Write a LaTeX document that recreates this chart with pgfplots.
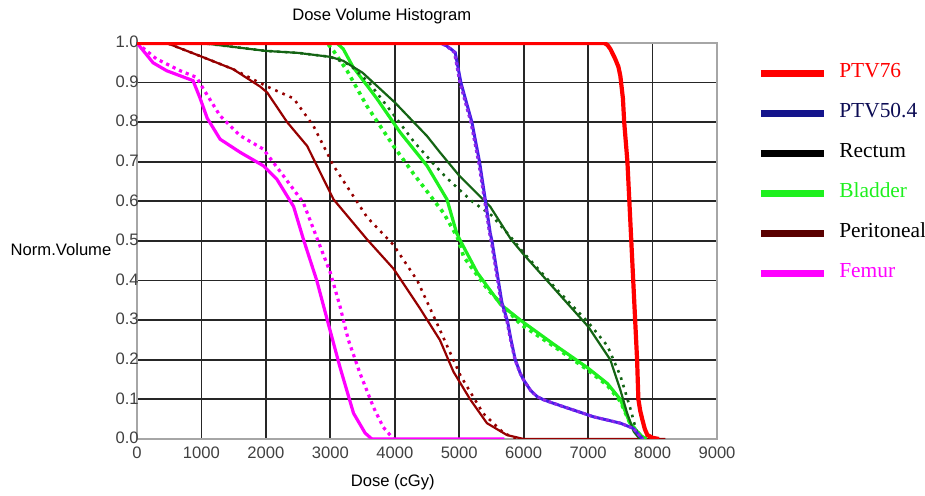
\documentclass[border=0pt]{standalone}
\usepackage{pgfplots}
\pgfplotsset{compat=1.18}
\usepackage{fontspec}
\setmainfont{Liberation Sans}
\newfontfamily\legfont{Liberation Serif}

\definecolor{ptvred}{RGB}{255,0,0}
\definecolor{ptvblue}{RGB}{70,30,230}
\definecolor{ptvviolet}{RGB}{140,40,235}
\definecolor{legnavy}{RGB}{20,20,140}
\definecolor{rectgreen}{RGB}{20,100,20}
\definecolor{bladgreen}{RGB}{30,240,30}
\definecolor{peritred}{RGB}{150,0,0}
\definecolor{femurmag}{RGB}{255,0,255}

\begin{document}
\begin{tikzpicture}
\begin{axis}[
    scale only axis,
    width=290pt, height=198pt,
    xmin=0, xmax=9000, ymin=0, ymax=1,
    xtick={0,1000,...,9000},
    ytick={0,0.1,...,1.0},
    grid=major,
    major grid style={black!85, line width=0.9pt},
    axis line style={gray!70, line width=0.6pt},
    major tick length=0pt,
    /pgf/number format/assume math mode=true,
    xticklabel style={font=\fontsize{8.3}{10}\selectfont, text=black!75,
        /pgf/number format/1000 sep={}, anchor=north, inner sep=0pt, yshift=-4pt},
    yticklabel style={font=\fontsize{8.3}{10}\selectfont, text=black!75,
        /pgf/number format/.cd, fixed, fixed zerofill, precision=1,
        /tikz/.cd, anchor=east, inner sep=0pt, xshift=1pt, yshift=0.5pt},
    title={Dose Volume Histogram},
    xlabel={Dose (cGy)},
    ylabel={Norm.Volume},
    every axis title/.style={at={(0.422,1.068)}, anchor=center,
        font=\fontsize{8.3}{10}\selectfont},
    every axis x label/.style={at={(0.441,-0.109)}, anchor=center,
        font=\fontsize{8.3}{10}\selectfont},
    every axis y label/.style={at={(-0.131,0.478)}, anchor=center,
        font=\fontsize{8.3}{10}\selectfont},
    legend style={at={(1.069,0.955)}, anchor=north west, draw=none, fill=none,
        inner sep=0pt, row sep=10pt,
        font=\legfont\fontsize{10.7}{12}\selectfont,
        nodes={inner sep=0pt, text height=8pt, text depth=2pt}},
    legend cell align=left,
    legend image code/.code={
        \draw[#1, line width=3.5pt] (0pt,-1pt) -- (31.5pt,-1pt);
        \path (39pt,0pt);
    },
]

% Femur
\addplot[forget plot, femurmag, line width=1.6pt] coordinates {
(0,1) (100,0.98) (250,0.95) (460,0.93) (870,0.905) (980,0.86) (1090,0.81)
(1290,0.757) (1600,0.724) (1960,0.69) (2170,0.656) (2430,0.587) (2583,0.504)
(2790,0.40) (2970,0.29) (3152,0.18) (3360,0.065) (3540,0.015) (3644,0) (5700,0)};
\addplot[forget plot, femurmag, line width=1.6pt, dash pattern=on 1.6pt off 2pt] coordinates {
(0,1) (150,0.98) (300,0.96) (670,0.93) (925,0.913) (1030,0.884) (1290,0.816)
(1600,0.766) (1960,0.732) (2270,0.665) (2580,0.597) (2810,0.5) (3000,0.42)
(3150,0.335) (3280,0.25) (3460,0.166) (3670,0.08) (3820,0.03) (3980,0)};

% Peritoneal
\addplot[forget plot, peritred, line width=1.1pt] coordinates {
(0,1) (460,1) (980,0.967) (1490,0.934) (1910,0.89) (2020,0.875) (2330,0.8)
(2640,0.74) (3050,0.605) (3570,0.504) (3980,0.43) (4390,0.33) (4700,0.25)
(4910,0.17) (5170,0.1) (5430,0.04) (5740,0.01) (6000,0) (8200,0)};
\addplot[forget plot, peritred, line width=1.3pt, dash pattern=on 1.3pt off 2.6pt] coordinates {
(0,1) (460,1) (980,0.967) (1490,0.934) (2020,0.89) (2430,0.86) (2740,0.79)
(3050,0.69) (3570,0.56) (3980,0.49) (4350,0.40) (4660,0.29) (5020,0.16)
(5370,0.065) (5690,0.015) (5900,0)};

% Bladder
\addplot[forget plot, bladgreen, line width=1.6pt] coordinates {
(0,1) (3100,1) (3200,0.985) (3350,0.94) (3720,0.86) (4080,0.775) (4500,0.69)
(4810,0.605) (4960,0.52) (5020,0.5) (5280,0.42) (5640,0.34) (5950,0.3)
(6460,0.24) (6990,0.18) (7300,0.14) (7500,0.1) (7650,0.04) (7810,0.01) (7900,0)};
\addplot[forget plot, bladgreen, line width=1.8pt, dash pattern=on 1.8pt off 2.2pt] coordinates {
(0,1) (2950,1) (3050,0.98) (3260,0.93) (3570,0.84) (3980,0.74) (4290,0.67)
(4760,0.57) (4970,0.51) (5070,0.46) (5430,0.38) (5950,0.29) (6460,0.235)
(6990,0.175) (7300,0.135) (7500,0.095) (7650,0.04) (7810,0.01) (7900,0)};

% Rectum
\addplot[forget plot, rectgreen, line width=1.1pt] coordinates {
(0,1) (1000,1) (1500,0.99) (2000,0.98) (2500,0.975) (3000,0.965) (3200,0.955)
(3500,0.925) (3800,0.88) (4000,0.85) (4500,0.765) (4700,0.724) (5000,0.665)
(5480,0.587) (5800,0.505) (6000,0.466) (6500,0.375) (7000,0.284) (7345,0.2)
(7500,0.124) (7604,0.066) (7707,0.019) (7800,0)};
\addplot[forget plot, rectgreen, line width=1.3pt, dash pattern=on 1.3pt off 2.6pt] coordinates {
(0,1) (1000,1) (1500,0.99) (2000,0.98) (2500,0.975) (3000,0.965) (3300,0.945)
(3600,0.9) (4000,0.815) (4300,0.75) (4600,0.695) (4800,0.66) (5200,0.6)
(5500,0.565) (5800,0.51) (6000,0.47) (6500,0.38) (7000,0.295) (7300,0.235)
(7500,0.16) (7650,0.08) (7750,0.02) (7850,0)};

% PTV50.4
\addplot[forget plot, ptvblue, line width=1.5pt] coordinates {
(0,1) (4700,1) (4783,0.995) (4870,0.985) (4938,0.976) (5026,0.9) (5197,0.8)
(5315,0.7) (5404,0.605) (5481,0.52) (5508,0.5) (5611,0.396) (5663,0.344)
(5750,0.297) (5803,0.251) (5870,0.2) (5947,0.166) (6000,0.149) (6102,0.124)
(6207,0.107) (6310,0.099) (6465,0.09) (6775,0.073) (7086,0.056) (7500,0.04)
(7700,0.027) (7810,0.006) (7850,0)};
\addplot[forget plot, ptvviolet, line width=1.5pt, dash pattern=on 1.5pt off 1.5pt] coordinates {
(0,1) (4680,1) (4770,0.995) (4860,0.985) (4925,0.976) (5010,0.9) (5180,0.8)
(5300,0.7) (5390,0.605) (5470,0.52) (5495,0.5) (5600,0.396) (5650,0.344)
(5740,0.297) (5795,0.251) (5865,0.2) (5945,0.166) (6000,0.149) (6102,0.124)
(6207,0.107) (6310,0.099) (6465,0.09) (6775,0.073) (7086,0.056) (7500,0.04)
(7700,0.027) (7810,0.006) (7850,0)};

% PTV76
\addplot[forget plot, ptvred, line width=2.1pt] coordinates {
(0,1) (7250,1) (7300,0.995) (7345,0.985) (7420,0.96) (7470,0.94) (7500,0.917)
(7540,0.86) (7560,0.8) (7610,0.7) (7640,0.6) (7670,0.5) (7700,0.4) (7730,0.3)
(7760,0.2) (7780,0.1) (7810,0.07) (7840,0.05) (7880,0.025) (7920,0.01)
(8000,0.003) (8100,0)};

\addlegendimage{ptvred}
\addlegendentry{\textcolor{ptvred}{PTV76}}
\addlegendimage{legnavy}
\addlegendentry{\textcolor{legnavy!60!black}{PTV50.4}}
\addlegendimage{black}
\addlegendentry{\textcolor{black}{Rectum}}
\addlegendimage{bladgreen}
\addlegendentry{\textcolor{bladgreen}{Bladder}}
\addlegendimage{peritred!60!black}
\addlegendentry{\textcolor{black}{Peritoneal}}
\addlegendimage{femurmag}
\addlegendentry{\textcolor{femurmag}{Femur}}
\end{axis}
\pgfresetboundingbox
\path[use as bounding box] (-68.5pt,-28.5pt) rectangle (394pt,219.5pt);
\end{tikzpicture}
\end{document}
